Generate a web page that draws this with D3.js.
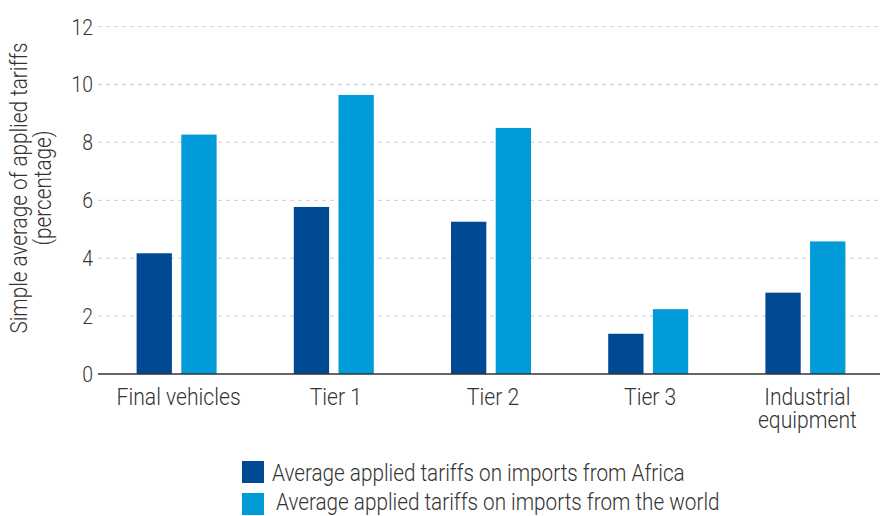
<!DOCTYPE html>
<html>
<head>
<meta charset="utf-8">
<script src="https://cdn.jsdelivr.net/npm/d3@7"></script>
<style>
  html, body { margin: 0; padding: 0; background: #fff; }
  svg { display: block; }
  text { font-family: Roboto, "Noto Sans", sans-serif; font-weight: 300; fill: #333; }
</style>
</head>
<body>
<svg id="chart" width="880" height="516"></svg>
<script>
// Tariff data by product group
const categories = ["Final vehicles", "Tier 1", "Tier 2", "Tier 3", "Industrial equipment"];
const africaValues = [4.17, 5.77, 5.26, 1.39, 2.81];
const worldValues = [8.27, 9.64, 8.5, 2.24, 4.58];
const seriesNames = [
  "Average applied tariffs on imports from Africa",
  "Average applied tariffs on imports from the world"
];
const seriesColors = ["#004a94", "#009bd8"];
const yTicks = [0, 2, 4, 6, 8, 10, 12];
const yTitle = ["Simple average of applied tariffs", "(percentage)"];

const rows = categories.map((c, i) => ({ category: c, values: [africaValues[i], worldValues[i]] }));

const svg = d3.select("#chart");
const plotLeft = 98, plotRight = 884, plotTop = 26.6, plotBottom = 374;

const x = d3.scaleBand().domain(categories).range([plotLeft, plotRight]).paddingInner(0).paddingOuter(0);
const y = d3.scaleLinear().domain([0, 12]).range([plotBottom, plotTop]);
const sub = d3.scaleBand().domain([0, 1]).range([x.bandwidth() / 2 - 40, x.bandwidth() / 2 + 40]).paddingInner(0.21);

// Dashed gridlines
svg.append("g").selectAll("line").data(yTicks.filter(t => t > 0)).join("line")
  .attr("x1", plotLeft).attr("x2", 880)
  .attr("y1", d => y(d)).attr("y2", d => y(d))
  .attr("stroke", "#d6d6d6").attr("stroke-width", 1.3).attr("stroke-dasharray", "4,4");

// Y tick labels
svg.append("g").selectAll("g").data(yTicks).join("g")
  .attr("transform", d => `translate(93,${y(d)}) scale(0.88,1)`)
  .append("text")
  .attr("text-anchor", "end").attr("dy", "0.36em")
  .attr("font-size", 22)
  .text(d => d);

// Bars
const groups = svg.append("g").selectAll("g").data(rows).join("g")
  .attr("transform", d => `translate(${x(d.category)},0)`);
groups.selectAll("rect").data(d => d.values.map((v, i) => ({ v, i }))).join("rect")
  .attr("x", d => sub(d.i))
  .attr("width", sub.bandwidth())
  .attr("y", d => y(d.v))
  .attr("height", d => y(0) - y(d.v))
  .attr("fill", d => seriesColors[d.i]);

// Baseline
svg.append("line")
  .attr("x1", plotLeft).attr("x2", 880)
  .attr("y1", y(0)).attr("y2", y(0))
  .attr("stroke", "#333").attr("stroke-width", 1.6);

// Category labels (wrapped to two lines where needed)
const catLabel = svg.append("g").selectAll("g").data(categories).join("g")
  .attr("transform", d => `translate(${x(d) + x.bandwidth() / 2 + 2},404.5) scale(0.92,1)`);
catLabel.append("text")
  .attr("text-anchor", "middle").attr("font-size", 23)
  .each(function (d) {
    const words = d === "Industrial equipment" ? ["Industrial", "equipment"] : [d];
    d3.select(this).selectAll("tspan").data(words).join("tspan")
      .attr("x", 0).attr("dy", (w, i) => i === 0 ? 0 : 24).text(w => w);
  });

// Y-axis title
const yt = svg.append("g").attr("transform", `translate(0,188) rotate(-90) scale(0.9,1)`);
yt.selectAll("text").data(yTitle).join("text")
  .attr("text-anchor", "middle").attr("font-size", 23)
  .attr("x", 0).attr("y", (d, i) => 27 + i * 24)
  .text(d => d);

// Legend
const legend = svg.append("g").selectAll("g").data(seriesNames).join("g")
  .attr("transform", (d, i) => `translate(242,${461 + i * 32})`);
legend.append("rect")
  .attr("width", 22).attr("height", 22)
  .attr("fill", (d, i) => seriesColors[i]);
legend.append("g")
  .attr("transform", (d, i) => `translate(${i === 0 ? 30 : 34},${i === 0 ? 19.5 : 17}) scale(0.9,1)`)
  .append("text").attr("font-size", 23)
  .text(d => d);
</script>
</body>
</html>
